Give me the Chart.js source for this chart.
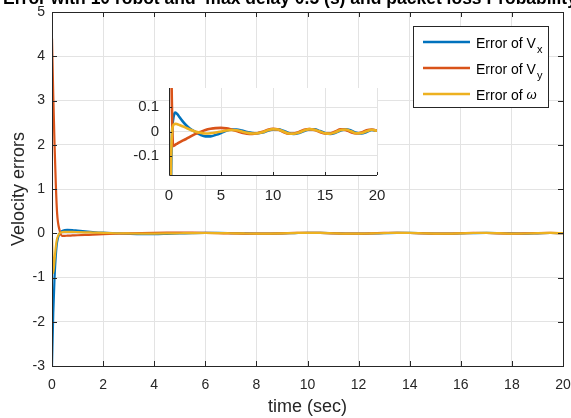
<!DOCTYPE html>
<html>
<head>
<meta charset="utf-8">
<script src="https://cdn.jsdelivr.net/npm/chart.js@4.4.1/dist/chart.umd.min.js"></script>
<style>
    html, body { margin: 0; padding: 0; background: #fff; }
    #wrap { position: relative; width: 571px; height: 418px; overflow: hidden; }
    #mainChart { position: absolute; left: 0; top: 0; }
    #insetChart { position: absolute; left: 125px; top: 80px; }
</style>
</head>
<body>
<div id="wrap">
    <canvas id="mainChart" width="571" height="418"></canvas>
    <canvas id="insetChart" width="260" height="130"></canvas>
</div>
<script>
// time samples (sec)
var times = [0, 0.05, 0.1, 0.15, 0.2, 0.3, 0.4, 0.5, 0.6, 0.8, 1.0, 1.3, 1.6, 2.0, 2.5, 3.0, 3.5, 4.0, 4.5,
    5, 5.5, 6, 6.5, 7, 7.5, 8, 8.5, 9, 9.5, 10, 10.5, 11, 11.5, 12, 12.5, 13, 13.5, 14, 14.5,
    15, 15.5, 16, 16.5, 17, 17.5, 18, 18.5, 19, 19.5, 20];

var errVx = [-3, -1.8, -1.0, -0.5, -0.2, 0.0, 0.05, 0.072, 0.078, 0.072, 0.06, 0.043, 0.028, 0.012, -0.001, -0.013, -0.02, -0.02, -0.014,
    -0.006, 0.003, 0.008, 0.008, 0.004, -0.002, -0.006, -0.007, -0.004, 0.003, 0.009, 0.009, 0.003, -0.006, -0.01, -0.006,
    0.002, 0.009, 0.009, 0.002, -0.006, -0.01, -0.005, 0.004, 0.009, 0.004, -0.005, -0.008, -0.002, 0.006, 0.004];

var errVy = [4.4, 3.1, 2.0, 1.1, 0.45, 0.06, -0.06, -0.058, -0.055, -0.05, -0.045, -0.038, -0.032, -0.022, -0.011, -0.002, 0.006, 0.011, 0.014,
    0.015, 0.013, 0.008, 0.002, -0.005, -0.009, -0.01, -0.007, -0.001, 0.007, 0.011, 0.008, -0.002, -0.009, -0.008, -0.002,
    0.007, 0.01, 0.006, -0.002, -0.008, -0.008, 0.0, 0.009, 0.006, -0.003, -0.008, -0.004, 0.005, 0.008, 0.003];

var errW = [-0.1, -0.9, -0.6, -0.3, -0.12, 0.0, 0.025, 0.03, 0.032, 0.03, 0.027, 0.022, 0.016, 0.008, 0.0, -0.005, -0.008, -0.007, -0.004,
    0.0, 0.004, 0.006, 0.005, 0.0, -0.005, -0.008, -0.007, -0.003, 0.005, 0.01, 0.008, 0.0, -0.008, -0.009, -0.004,
    0.004, 0.01, 0.007, 0.0, -0.007, -0.009, -0.003, 0.006, 0.008, 0.001, -0.007, -0.006, 0.001, 0.007, 0.003];

var xTicks = [0, 2, 4, 6, 8, 10, 12, 14, 16, 18, 20];
var yTicks = [-3, -2, -1, 0, 1, 2, 3, 4, 5];
var insetXTicks = [0, 5, 10, 15, 20];
var insetYTicks = [-0.1, 0, 0.1];

var seriesNames = [['Error of V', 'x'], ['Error of V', 'y'], ['Error of ', '\u03c9']];
var seriesColors = ['#0072BD', '#D95319', '#EDB120'];

var titleText = 'Error with 10 robot and  max delay 0.5 (s) and packet loss Probability';
var xTitle = 'time (sec)';
var yTitle = 'Velocity errors';

var FONT = "'Liberation Sans', Arial, sans-serif";
var axisColor = '#262626';
var gridColor = '#e3e3e3';

Chart.defaults.font.family = FONT;
Chart.defaults.color = axisColor;

function pts(vals) {
    return times.map(function (t, i) { return { x: t, y: vals[i] }; });
}

function makeSets(width) {
    return [errVx, errVy, errW].map(function (vals, i) {
        return {
            label: seriesNames[i].join(''),
            data: pts(vals),
            borderColor: seriesColors[i],
            borderWidth: width,
            pointRadius: 0,
            fill: false,
            cubicInterpolationMode: 'monotone',
            order: 3 - i
        };
    });
}

function fixTicks(list) {
    return function (s) { s.ticks = list.map(function (v) { return { value: v }; }); };
}

// fixed axis size, no extra room for overhanging labels
function fitTo(prop, size) {
    return function (s) {
        s[prop] = size;
        s.paddingLeft = 0; s.paddingRight = 0;
        s.paddingTop = 0; s.paddingBottom = 0;
    };
}

var mainFrame = {
    id: 'mainFrame',
    afterDraw: function (chart) {
        var ctx = chart.ctx, a = chart.chartArea;
        var xs = chart.scales.x, ys = chart.scales.y;
        ctx.save();

        // box and inward ticks
        ctx.strokeStyle = axisColor;
        ctx.lineWidth = 1;
        ctx.strokeRect(a.left + 0.5, a.top + 0.5, a.right - a.left, a.bottom - a.top);
        ctx.beginPath();
        xTicks.forEach(function (v) {
            var px = Math.round(xs.getPixelForValue(v)) + 0.5;
            ctx.moveTo(px, a.bottom); ctx.lineTo(px, a.bottom - 5);
            ctx.moveTo(px, a.top); ctx.lineTo(px, a.top + 5);
        });
        yTicks.forEach(function (v) {
            var py = Math.round(ys.getPixelForValue(v)) + 0.5;
            ctx.moveTo(a.left, py); ctx.lineTo(a.left + 5, py);
            ctx.moveTo(a.right, py); ctx.lineTo(a.right - 5, py);
        });
        ctx.stroke();

        // axis titles
        ctx.fillStyle = axisColor;
        ctx.font = '18px ' + FONT;
        ctx.textAlign = 'center';
        ctx.textBaseline = 'alphabetic';
        ctx.fillText(xTitle, (a.left + a.right) / 2, 412);
        ctx.save();
        ctx.translate(24, (a.top + a.bottom) / 2);
        ctx.rotate(-Math.PI / 2);
        ctx.fillText(yTitle, 0, 0);
        ctx.restore();

        // title, clipped by the top edge
        ctx.font = 'bold 17.5px ' + FONT;
        ctx.textAlign = 'left';
        ctx.fillStyle = '#000';
        var head = ctx.measureText('Error with 10 robot and  max delay').width;
        ctx.fillText(titleText, 290 - head, 4);

        // legend
        var lx = 413, ly = 26, lw = 135, lh = 81;
        ctx.fillStyle = '#fff';
        ctx.fillRect(lx, ly, lw, lh);
        ctx.strokeStyle = axisColor;
        ctx.lineWidth = 1;
        ctx.strokeRect(lx + 0.5, ly + 0.5, lw, lh);
        seriesNames.forEach(function (nm, i) {
            var yy = 42 + i * 26;
            ctx.strokeStyle = seriesColors[i];
            ctx.lineWidth = 2.5;
            ctx.beginPath();
            ctx.moveTo(423, yy); ctx.lineTo(470, yy);
            ctx.stroke();
            ctx.fillStyle = '#000';
            ctx.font = '14px ' + FONT;
            ctx.fillText(nm[0], 476, yy + 6);
            var w0 = ctx.measureText(nm[0]).width;
            if (i < 2) {
                ctx.font = '11px ' + FONT;
                ctx.fillText(nm[1], 476 + w0 + 1, yy + 11);
            } else {
                ctx.font = 'italic 13px ' + FONT;
                ctx.fillText(nm[1], 476 + w0, yy + 5);
            }
        });
        ctx.restore();
    }
};

var insetFrame = {
    id: 'insetFrame',
    beforeDraw: function (chart) {
        var ctx = chart.ctx, a = chart.chartArea;
        ctx.save();
        ctx.fillStyle = '#fff';
        ctx.fillRect(a.left, a.top, a.right - a.left, a.bottom - a.top);
        ctx.restore();
    },
    afterDraw: function (chart) {
        var ctx = chart.ctx, a = chart.chartArea;
        var xs = chart.scales.x, ys = chart.scales.y;
        ctx.save();
        ctx.strokeStyle = axisColor;
        ctx.lineWidth = 1;
        ctx.beginPath();
        ctx.moveTo(a.left + 0.5, a.top); ctx.lineTo(a.left + 0.5, a.bottom + 0.5);
        ctx.lineTo(a.right, a.bottom + 0.5);
        insetXTicks.forEach(function (v) {
            var px = Math.round(xs.getPixelForValue(v)) + 0.5;
            ctx.moveTo(px, a.bottom); ctx.lineTo(px, a.bottom - 3);
        });
        insetYTicks.forEach(function (v) {
            var py = Math.round(ys.getPixelForValue(v)) + 0.5;
            ctx.moveTo(a.left, py); ctx.lineTo(a.left + 3, py);
        });
        ctx.stroke();
        ctx.restore();
    }
};

new Chart(document.getElementById('mainChart'), {
    type: 'line',
    data: { datasets: makeSets(2.2) },
    options: {
        responsive: false,
        animation: false,
        devicePixelRatio: 1,
        layout: { padding: { top: 12, right: 8, left: 0, bottom: 0 } },
        plugins: { legend: { display: false }, tooltip: { enabled: false } },
        scales: {
            x: {
                type: 'linear', min: 0, max: 20,
                afterBuildTicks: fixTicks(xTicks),
                afterFit: fitTo('height', 52),
                grid: { color: gridColor, drawTicks: false },
                border: { display: false },
                ticks: { padding: 11, autoSkip: false, maxRotation: 0, font: { size: 14 }, color: axisColor }
            },
            y: {
                type: 'linear', min: -3, max: 5,
                afterBuildTicks: fixTicks(yTicks),
                afterFit: fitTo('width', 52),
                grid: { color: gridColor, drawTicks: false },
                border: { display: false },
                ticks: { padding: 7, autoSkip: false, font: { size: 14 }, color: axisColor }
            }
        }
    },
    plugins: [mainFrame]
});

new Chart(document.getElementById('insetChart'), {
    type: 'line',
    data: { datasets: makeSets(2.6) },
    options: {
        responsive: false,
        animation: false,
        devicePixelRatio: 1,
        layout: { padding: { top: 8, right: 8, left: 0, bottom: 0 } },
        plugins: { legend: { display: false }, tooltip: { enabled: false } },
        scales: {
            x: {
                type: 'linear', min: 0, max: 20,
                afterBuildTicks: fixTicks(insetXTicks),
                afterFit: fitTo('height', 35),
                grid: { color: gridColor, drawTicks: false },
                border: { display: false },
                ticks: { padding: 12, autoSkip: false, maxRotation: 0, font: { size: 15 }, color: axisColor }
            },
            y: {
                type: 'linear', min: -0.18, max: 0.18,
                afterBuildTicks: fixTicks(insetYTicks),
                afterFit: fitTo('width', 44),
                grid: { color: gridColor, drawTicks: false },
                border: { display: false },
                ticks: {
                    padding: 10, autoSkip: false, font: { size: 15 }, color: axisColor,
                    callback: function (v) { return String(v); }
                }
            }
        }
    },
    plugins: [insetFrame]
});
</script>
</body>
</html>
